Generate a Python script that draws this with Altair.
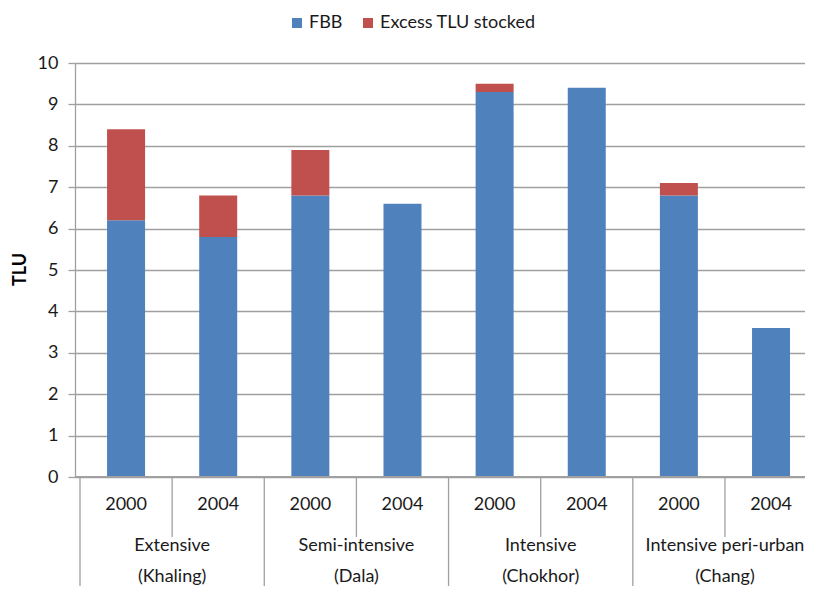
import altair as alt
import pandas as pd

systems = ["Extensive", "Semi-intensive", "Intensive", "Intensive peri-urban"]
places = ["(Khaling)", "(Dala)", "(Chokhor)", "(Chang)"]
years = ["2000", "2004"]
fbb = [6.2, 5.8, 6.8, 6.6, 9.3, 9.4, 6.8, 3.6]
excess = [2.2, 1.0, 1.1, 0.0, 0.2, 0.0, 0.3, 0.0]
series = ["FBB", "Excess TLU stocked"]
colors = ["#4F81BD", "#C0504D"]

FONT = "Lato"
FS = 18
GRID = "#a0a0a0"
TXT = "#1a1a1a"

rows = []
for i in range(len(fbb)):
    rows.append({"pos": i + 0.5, "series": series[0], "value": fbb[i], "ord": 0})
    rows.append({"pos": i + 0.5, "series": series[1], "value": excess[i], "ord": 1})
bars_df = pd.DataFrame(rows)

year_df = pd.DataFrame({"pos": [i + 0.5 for i in range(len(fbb))],
                        "year": [years[i % 2] for i in range(len(fbb))]})
group_df = pd.DataFrame({"pos": [2 * g + 1 for g in range(len(systems))],
                         "system": systems, "place": places})
gsep_df = pd.DataFrame({"pos": [2 * g for g in range(len(systems) + 1)]})
ysep_df = pd.DataFrame({"pos": [2 * g + 1 for g in range(len(systems))]})

W = 730
H = 414
xscale = alt.Scale(domain=[0, 7.8144], nice=False, zero=False)

bars = alt.Chart(bars_df).mark_bar(size=38).encode(
    x=alt.X("pos:Q", scale=xscale, axis=None),
    y=alt.Y("value:Q", stack="zero",
            scale=alt.Scale(domain=[0, 10], nice=False),
            axis=alt.Axis(values=list(range(0, 11)), title="TLU",
                          grid=True, gridColor=GRID, gridWidth=1.3,
                          domain=True, domainColor=GRID, domainWidth=1.3,
                          ticks=True, tickColor=GRID, tickSize=7, tickWidth=1.3,
                          labelFont=FONT, labelFontSize=FS, labelColor=TXT,
                          labelPadding=10,
                          titleFont=FONT, titleFontSize=18, titleFontWeight="bold",
                          titleColor="#000000", titleX=-55, titleY=206,
                          titleAlign="center", titleBaseline="middle")),
    color=alt.Color("series:N", scale=alt.Scale(domain=series, range=colors),
                    legend=alt.Legend(title=None, orient="none", direction="horizontal",
                                      legendX=213, legendY=-49, symbolType="square",
                                      symbolSize=100, symbolStrokeWidth=0,
                                      labelFont=FONT, labelFontSize=FS,
                                      labelColor=TXT, labelOffset=3,
                                      columnPadding=16, padding=0)),
    order=alt.Order("ord:Q"),
)

gseps = alt.Chart(gsep_df).mark_rule(color=GRID, strokeWidth=1.3).encode(
    x=alt.X("pos:Q", scale=xscale), y=alt.value(H), y2=alt.value(H + 120))
yseps = alt.Chart(ysep_df).mark_rule(color=GRID, strokeWidth=1.3).encode(
    x=alt.X("pos:Q", scale=xscale), y=alt.value(H), y2=alt.value(H + 60))
base_line = alt.Chart(gsep_df).mark_rule(color=GRID, strokeWidth=1.3).encode(
    x=alt.value(0), x2=alt.value(W), y=alt.value(H))

year_txt = alt.Chart(year_df).mark_text(font=FONT, fontSize=FS, color=TXT,
                                        baseline="middle").encode(
    x=alt.X("pos:Q", scale=xscale), y=alt.value(H + 28), text="year:N")
sys_txt = alt.Chart(group_df).mark_text(font=FONT, fontSize=FS, color=TXT,
                                        baseline="middle").encode(
    x=alt.X("pos:Q", scale=xscale), y=alt.value(H + 69), text="system:N")
place_txt = alt.Chart(group_df).mark_text(font=FONT, fontSize=FS, color=TXT,
                                          baseline="middle").encode(
    x=alt.X("pos:Q", scale=xscale), y=alt.value(H + 100), text="place:N")

chart = alt.layer(bars, base_line, gseps, yseps, year_txt, sys_txt, place_txt).properties(
    width=W, height=H,
    autosize=alt.AutoSizeParams(type="none"),
    padding={"left": 67, "top": 55, "right": 0, "bottom": 109},
).configure_view(stroke=None).configure(background="white")

chart.save("out.html", embed_options={"renderer": "svg", "actions": False})
